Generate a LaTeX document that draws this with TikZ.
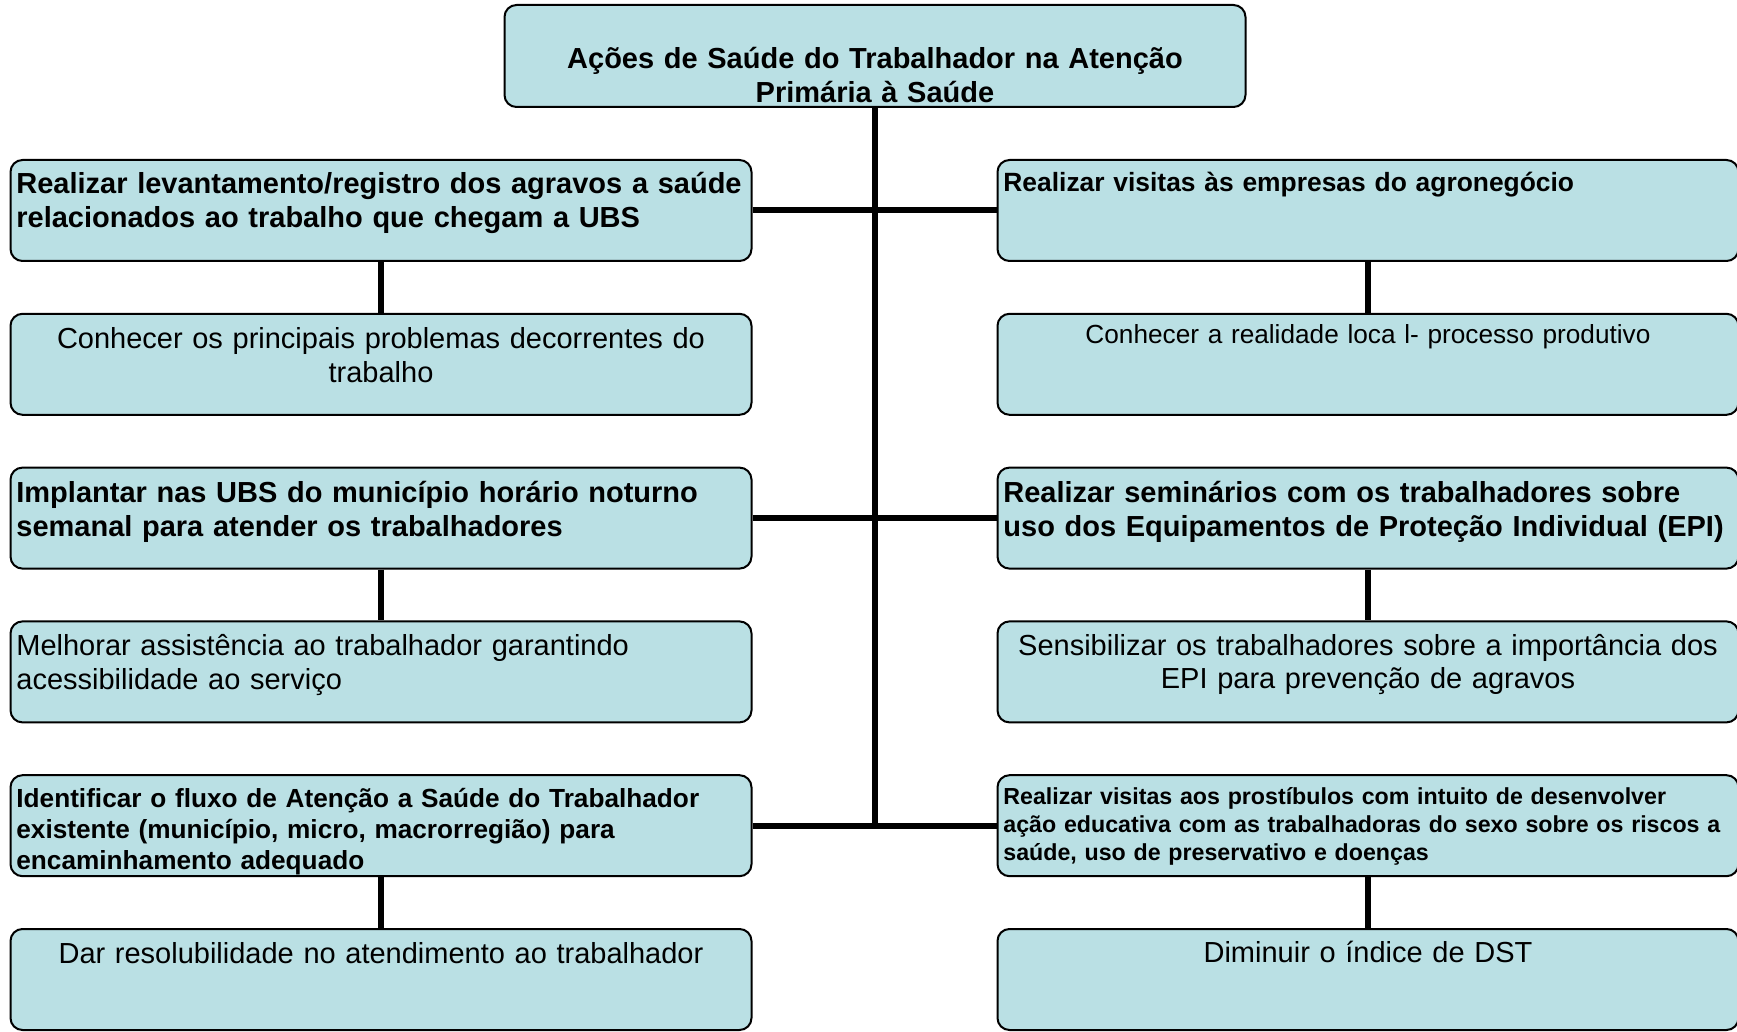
\documentclass[tikz,border=0pt]{standalone}
\usepackage{fontspec}
\setmainfont{Liberation Sans}
\usetikzlibrary{positioning}
\definecolor{boxfill}{RGB}{186,224,228}
\tikzstyle{box} = [draw=black, line width=1pt, fill=boxfill, rounded corners=6pt, minimum width=370.5pt, minimum height=50.5pt, inner sep=0pt]
\tikzstyle{link} = [line width=3pt]
\tikzstyle{bold} = [font=\fontsize{14.5}{17}\selectfont\bfseries, inner sep=0pt, text width=420pt, align=left, anchor=base west]
\tikzstyle{plain} = [font=\fontsize{14.5}{17}\selectfont, inner sep=0pt, text width=420pt, align=center, anchor=base]

\begin{document}
\begin{tikzpicture}[x=0.5pt,y=-0.5pt]
\useasboundingbox (0,0) rectangle (1737,1032);

% title
\node[box, minimum height=51pt] (top) at (875,56) {};
\node[plain, font=\fontsize{14.5}{17}\selectfont\bfseries] (toptxt) at ([shift={(0,65)}]top.north) {Ações de Saúde do Trabalhador na Atenção\\Primária à Saúde};

% left column
\node[box] (l1) at (381,210.5) {};
\node[box] (l2) at (381,364.3) {};
\node[box] (l3) at (381,518.1) {};
\node[box] (l4) at (381,671.9) {};
\node[box] (l5) at (381,825.7) {};
\node[box] (l6) at (381,979.5) {};

% right column
\node[box] (r1) at (1368,210.5) {};
\node[box] (r2) at (1368,364.3) {};
\node[box] (r3) at (1368,518.1) {};
\node[box] (r4) at (1368,671.9) {};
\node[box] (r5) at (1368,825.7) {};
\node[box] (r6) at (1368,979.5) {};

% connectors
\draw[link] (top.south) -- (top.south |- l5.east);
\draw[link] (l1.east) -- (r1.west);
\draw[link] (l3.east) -- (r3.west);
\draw[link] (l5.east) -- (r5.west);
\draw[link] (l1.south) -- (l2.north);
\draw[link] (l3.south) -- (l4.north);
\draw[link] (l5.south) -- (l6.north);
\draw[link] (r1.south) -- (r2.north);
\draw[link] (r3.south) -- (r4.north);
\draw[link] (r5.south) -- (r6.north);

% texts left
\node[bold] (l1txt) at ([shift={(6.5,35)}]l1.north west) {Realizar levantamento/registro dos agravos a saúde\\relacionados ao trabalho que chegam a UBS};
\node[plain] (l2txt) at ([shift={(0,36)}]l2.north) {Conhecer os principais problemas decorrentes do\\trabalho};
\node[bold] (l3txt) at ([shift={(6.5,36)}]l3.north west) {Implantar nas UBS do município horário noturno\\semanal para atender os trabalhadores};
\node[plain, align=left, anchor=base west] (l4txt) at ([shift={(6.5,35.5)}]l4.north west) {Melhorar assistência ao trabalhador garantindo\\acessibilidade ao serviço};
\node[bold, font=\fontsize{13.1}{15.5}\selectfont\bfseries] (l5txt) at ([shift={(6.5,33)}]l5.north west) {Identificar o fluxo de Atenção a Saúde do Trabalhador\\existente (município, micro, macrorregião) para\\encaminhamento adequado};
\node[plain] (l6txt) at ([shift={(0,35.5)}]l6.north) {Dar resolubilidade no atendimento ao trabalhador};

% texts right
\node[bold, font=\fontsize{13.2}{15.5}\selectfont\bfseries] (r1txt) at ([shift={(6.5,33)}]r1.north west) {Realizar visitas às empresas do agronegócio};
\node[plain, font=\fontsize{13.1}{15.5}\selectfont] (r2txt) at ([shift={(0,31)}]r2.north) {Conhecer a realidade loca l- processo produtivo};
\node[bold] (r3txt) at ([shift={(6.5,36)}]r3.north west) {Realizar seminários com os trabalhadores sobre\\uso dos Equipamentos de Proteção Individual (EPI)};
\node[plain, font=\fontsize{14.5}{16.5}\selectfont] (r4txt) at ([shift={(0,35)}]r4.north) {Sensibilizar os trabalhadores sobre a importância dos\\EPI para prevenção de agravos};
\node[bold, font=\fontsize{11.6}{14}\selectfont\bfseries] (r5txt) at ([shift={(6.5,30)}]r5.north west) {Realizar visitas aos prostíbulos com intuito de desenvolver\\ação educativa com as trabalhadoras do sexo sobre os riscos a\\saúde, uso de preservativo e doenças};
\node[plain] (r6txt) at ([shift={(0,34.5)}]r6.north) {Diminuir o índice de DST};
\end{tikzpicture}
\end{document}
